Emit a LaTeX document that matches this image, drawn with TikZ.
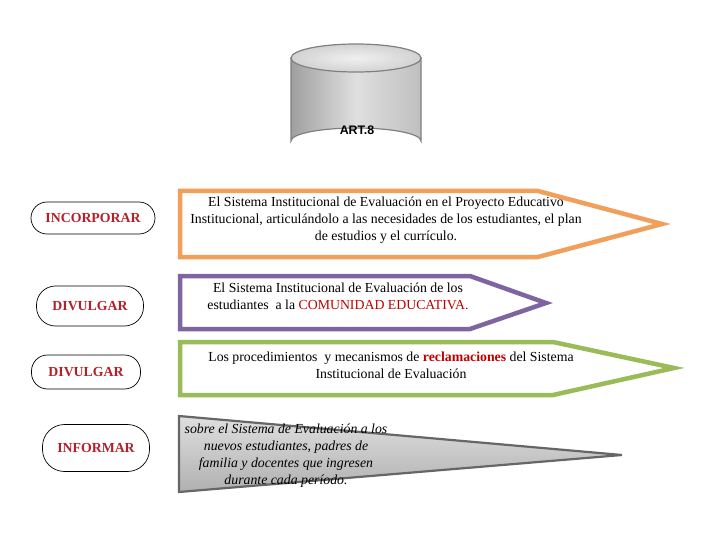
\documentclass[tikz,border=0pt]{standalone}
\usepackage{fontspec}
\setmainfont{Liberation Serif}
\newfontfamily\artfont{Liberation Sans}
\usepackage{tikz}
\definecolor{lblred}{HTML}{B4202A}
\definecolor{txtred}{HTML}{C00000}
\definecolor{arrorange}{HTML}{F0A05A}
\definecolor{arrpurple}{HTML}{7E64A0}
\definecolor{arrgreen}{HTML}{9BBB59}
\tikzset{x=1pt,y=-1pt,every node/.style={font=\fontsize{13.8}{17}\selectfont,align=center,inner sep=0pt},
  lbl/.style={draw,line width=0.7pt,rounded corners=16pt,text=lblred,font=\fontsize{13.8}{15}\selectfont\bfseries},
  arr/.style={line width=4.5pt,line join=miter,fill=white}}

\begin{document}
\begin{tikzpicture}
    \useasboundingbox (0,0) rectangle (720,540);
    \shade[left color=gray!75,right color=gray!50,middle color=gray!25,draw=gray,line width=1.2pt]
      (291,58) -- (291,141) arc[start angle=180,end angle=360,x radius=65,y radius=13] -- (421,58) -- cycle;
    \shade[inner color=gray!12,outer color=gray!35,draw=gray,line width=1.2pt]
      (356,58) ellipse[x radius=65,y radius=14];
    \node[font=\artfont\fontsize{12.4}{14}\selectfont\bfseries] (art) at (357,130) {ART.8};
    \node[lbl,minimum width=124pt,minimum height=32pt] (l1) at (93,218) {INCORPORAR};
    \node[lbl,minimum width=107pt,minimum height=40pt,rounded corners=19pt] (l2) at (90,306) {DIVULGAR};
    \node[lbl,minimum width=109pt,minimum height=34pt] (l3) at (86,372) {DIVULGAR};
    \node[lbl,minimum width=107pt,minimum height=47pt,rounded corners=22pt] (l4) at (96,448) {INFORMAR};
    \draw[arr,draw=arrorange] (180,191) -- (538,191) -- (662,224) -- (538,257) -- (180,257) -- cycle;
    \draw[arr,draw=arrpurple] (180,276) -- (470,276) -- (546,303) -- (470,329) -- (180,329) -- cycle;
    \draw[arr,draw=arrgreen] (180,342) -- (553,342) -- (674,368) -- (553,395) -- (180,395) -- cycle;
    \shade[shading=axis,shading angle=-35,top color=gray!25,bottom color=gray!62,draw=black!60,line width=2.2pt,line join=miter]
      (179,416) -- (622,455) -- (179,492) -- cycle;
    \node (t1) at (386,220) {El Sistema Institucional de Evaluación en el Proyecto Educativo\\
      Institucional, articulándolo a las necesidades de los estudiantes, el plan\\de estudios y el currículo.};
    \node (t2) at (338,296) {El Sistema Institucional de Evaluación de los\\
      estudiantes\ \ a la \textcolor{txtred}{COMUNIDAD EDUCATIVA.}};
    \node (t3) at (391,365) {Los procedimientos\ \ y mecanismos de \textcolor{txtred}{\bfseries reclamaciones} del Sistema\\
      Institucional de Evaluación};
    \node[font=\fontsize{13.8}{17}\selectfont\itshape] (t4) at (286,456) {sobre el Sistema de Evaluación a los\\
      nuevos estudiantes, padres de\\familia y docentes que ingresen\\durante cada período.};
\end{tikzpicture}
\end{document}
